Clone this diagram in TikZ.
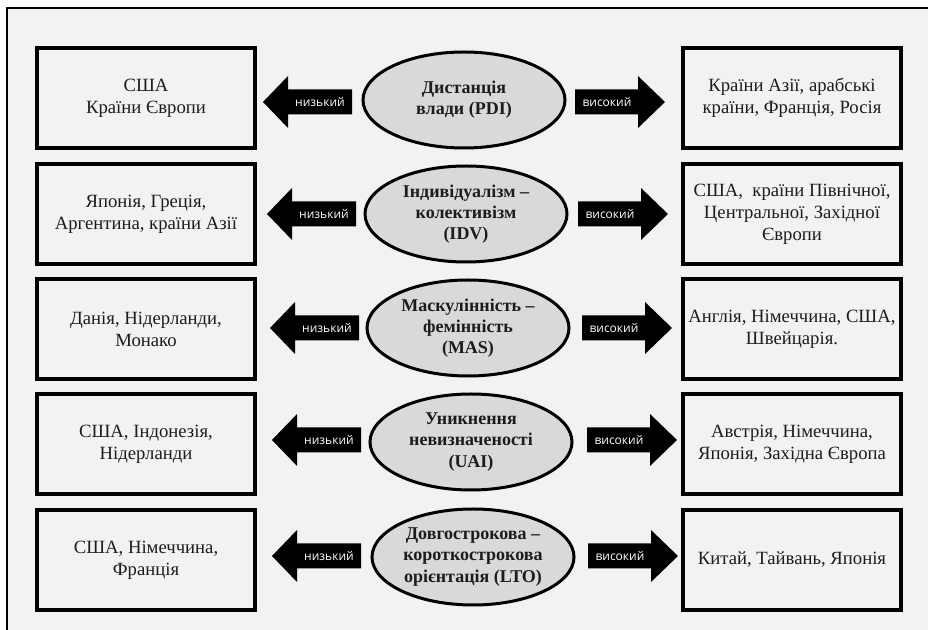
\documentclass[tikz,border=0pt]{standalone}
\usepackage{fontspec}
\setmainfont{Liberation Serif}
\newfontfamily\arrowfont{Open Sans}
\usetikzlibrary{shapes.geometric}
\definecolor{bgc}{HTML}{F2F2F2}
\definecolor{ellfill}{HTML}{D9D9D9}
\definecolor{txt}{HTML}{1C1C1C}
\begin{document}
\begin{tikzpicture}[x=0.5pt,y=-0.5pt,
  sidebox/.style={draw=black, line width=1.8pt, fill=bgc, minimum width=109pt, minimum height=50pt,
    align=center, inner sep=0pt, text=txt, font=\fontsize{9.35}{11}\selectfont},
  ellnode/.style={ellipse, draw=black, line width=1.5pt, fill=ellfill, minimum width=101pt, minimum height=48pt, inner sep=0pt},
  elltext/.style={align=center, inner sep=0pt, text=txt, font=\bfseries\fontsize{9}{10.6}\selectfont},
  arrlabel/.style={text=white, inner sep=0pt, font=\arrowfont\fontsize{6}{6}\selectfont},
  bigarrow/.style={fill=black}]
\useasboundingbox (0,0) rectangle (928,630);
\fill[white] (0,0) rectangle (928,630);
\fill[bgc] (7,8) rectangle (928,630);
\draw[line width=0.6pt] (7,630) -- (7,8) -- (928,8);

% side boxes
\node[sidebox] (l1) at (146,98) {США\\Країни Європи};
\node[sidebox] (r1) at (792,98) {Країни Азії, арабські\\країни, Франція, Росія};
\node[sidebox] (l2) at (146,214) {Японія, Греція,\\Аргентина, країни Азії};
\node[sidebox] (r2) at (792,214) {США,\ \ країни Північної,\\Центральної,\ Західної\\Європи};
\node[sidebox] (l3) at (146,329) {Данія, Нідерланди,\\Монако};
\node[sidebox] (r3) at (792,329) {Англія, Німеччина, США,\\Швейцарія.};
\node[sidebox] (l4) at (146,444) {США, Індонезія,\\Нідерланди};
\node[sidebox] (r4) at (792,444) {Австрія, Німеччина,\\Японія, Західна Європа};
\node[sidebox] (l5) at (146,560) {США, Німеччина,\\Франція};
\node[sidebox] (r5) at (792,560) {Китай, Тайвань, Японія};

% ellipses
\node[ellnode] (e1) at (464,100) {};
\node[elltext] (t1) at (e1) {Дистанція\\влади (PDI)};
\node[ellnode] (e2) at (466,214) {};
\node[elltext] (t2) at (e2) {Індивідуалізм –\\колективізм\\(IDV)};
\node[ellnode] (e3) at (468,328) {};
\node[elltext] (t3) at (e3) {Маскулінність –\\фемінність\\(MAS)};
\node[ellnode] (e4) at (471,442) {};
\node[elltext] (t4) at (e4) {Уникнення\\невизначеності\\(UAI)};
\node[ellnode] (e5) at (473,557) {};
\node[elltext] (t5) at (e5) {Довгострокова –\\короткострокова\\орієнтація (LTO)};

% arrows
\foreach \i/\c/\lt/\rs in {1/102/263/575, 2/214/267/578, 3/328/270/582, 4/440/272/587, 5/556/272/588}{
  \fill[bigarrow] (\lt,\c) -- ++(25,-26) -- ++(0,13.5) -- ++(64,0) -- ++(0,25) -- ++(-64,0) -- ++(0,13.5) -- cycle;
  \node[arrlabel] (lo\i) at ({\lt+57},\c) {низький};
  \fill[bigarrow] (\rs,{\c-12.5}) -- ++(63,0) -- ++(0,-13.5) -- ++(27,26) -- ++(-27,26) -- ++(0,-13.5) -- ++(-63,0) -- cycle;
  \node[arrlabel] (hi\i) at ({\rs+32},\c) {високий};
}
\end{tikzpicture}
\end{document}
